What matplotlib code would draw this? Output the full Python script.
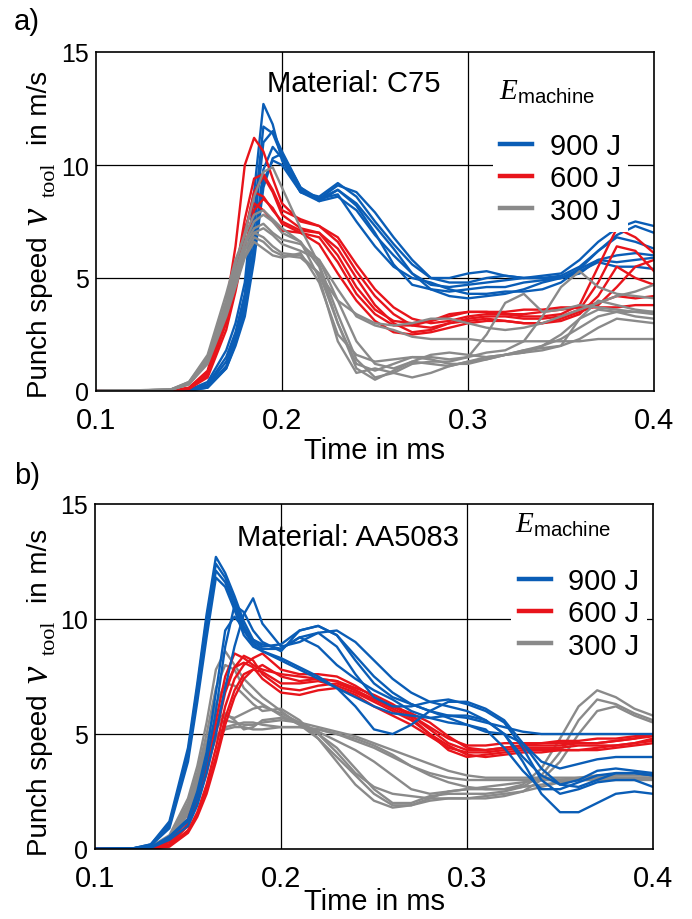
import matplotlib
matplotlib.use("Agg")
import matplotlib.pyplot as plt
from matplotlib.lines import Line2D

plt.rcParams['font.family'] = ['Liberation Sans', 'DejaVu Sans']
plt.rcParams['mathtext.fontset'] = 'custom'
plt.rcParams['mathtext.rm'] = 'Liberation Serif'
plt.rcParams['mathtext.it'] = 'Liberation Serif:italic'
plt.rcParams['mathtext.sf'] = 'Liberation Sans'

# ---------------- data (time in ms, punch speed in m/s) ----------------
energies = ['900 J', '600 J', '300 J']
colors = {'900 J': '#0A5DB6', '600 J': '#E8141B', '300 J': '#8A8A8A'}

x_ticks = [0.1, 0.2, 0.3, 0.4]
x_tick_labels = ['0.1', '0.2', '0.3', '0.4']
y_ticks = [0, 5, 10, 15]
y_tick_labels = ['0', '5', '10', '15']

# Panel a) C75
time_a = [0.10, 0.14, 0.15, 0.16, 0.17, 0.175, 0.18, 0.185, 0.19, 0.195, 0.20,
          0.21, 0.22, 0.23, 0.24, 0.25, 0.26, 0.27, 0.28, 0.29, 0.30,
          0.31, 0.32, 0.33, 0.34, 0.35, 0.36, 0.37, 0.38, 0.39, 0.40]

a_900 = [
    [0, 0, 0.05, 0.4, 1.8, 3.0, 4.8, 8.8, 12.7, 11.8, 10.2, 8.8, 8.6, 9.2, 8.6, 7.5, 6.5, 5.6, 5.0, 5.0, 5.2, 5.3, 5.1, 5.0, 5.1, 5.2, 5.8, 6.6, 7.2, 7.5, 7.3],
    [0, 0, 0.04, 0.3, 1.5, 2.6, 4.3, 7.8, 11.7, 11.4, 10.4, 8.9, 8.5, 9.1, 8.8, 7.9, 6.8, 5.8, 5.0, 4.8, 4.8, 5.0, 5.1, 5.0, 5.0, 5.1, 5.5, 6.2, 6.8, 6.6, 6.3],
    [0, 0, 0.03, 0.25, 1.3, 2.4, 4.0, 7.2, 11.0, 11.5, 10.6, 9.0, 8.4, 8.6, 8.0, 6.9, 6.0, 5.2, 4.7, 4.6, 4.7, 4.8, 4.9, 5.0, 5.0, 5.0, 5.2, 5.8, 6.0, 6.1, 6.0],
    [0, 0, 0.02, 0.2, 1.1, 2.2, 3.7, 6.5, 9.8, 10.8, 10.3, 8.8, 8.4, 8.9, 8.2, 7.0, 5.6, 4.7, 4.5, 4.4, 4.5, 4.6, 4.6, 4.8, 4.9, 5.0, 5.3, 5.7, 5.5, 5.5, 5.4],
    [0, 0, 0.02, 0.15, 1.0, 2.0, 3.3, 5.8, 9.0, 10.3, 10.5, 9.0, 8.5, 8.7, 7.5, 6.4, 5.5, 5.0, 4.8, 4.5, 4.3, 4.3, 4.4, 4.4, 4.5, 4.8, 5.4, 5.8, 5.7, 5.8, 5.9],
    [0, 0, 0.02, 0.15, 1.0, 2.1, 3.5, 6.2, 9.3, 10.2, 10.0, 8.8, 8.5, 8.9, 8.3, 7.3, 6.3, 5.2, 4.5, 4.2, 4.1, 4.2, 4.3, 4.5, 4.8, 5.0, 5.4, 6.2, 6.9, 7.3, 7.0],
]
a_600 = [
    [0, 0.01, 0.15, 0.9, 3.8, 6.4, 10.0, 11.2, 10.6, 9.4, 8.3, 7.5, 7.3, 6.8, 5.6, 4.5, 3.7, 3.2, 3.0, 3.1, 3.3, 3.4, 3.4, 3.3, 3.3, 3.4, 3.8, 5.5, 7.2, 6.8, 6.1],
    [0, 0.01, 0.12, 0.8, 3.4, 5.2, 7.6, 9.4, 9.6, 8.9, 8.0, 7.6, 7.3, 6.6, 5.3, 4.2, 3.4, 2.9, 2.8, 3.0, 3.2, 3.3, 3.3, 3.2, 3.2, 3.3, 3.6, 4.8, 6.4, 6.2, 5.3],
    [0, 0.01, 0.1, 0.7, 3.0, 4.7, 6.9, 8.8, 9.5, 8.8, 7.8, 7.2, 7.0, 6.3, 5.0, 3.8, 3.0, 2.6, 2.7, 3.0, 3.1, 3.2, 3.1, 3.0, 3.0, 3.1, 3.4, 4.2, 5.5, 5.0, 4.7],
    [0, 0.01, 0.1, 0.7, 3.1, 4.9, 7.0, 8.8, 8.6, 8.0, 7.5, 7.1, 7.0, 6.0, 4.6, 3.6, 3.1, 3.0, 3.1, 3.3, 3.5, 3.5, 3.4, 3.4, 3.5, 3.6, 3.7, 3.9, 4.2, 4.1, 4.2],
    [0, 0.01, 0.1, 0.6, 2.7, 4.4, 6.4, 8.0, 8.5, 8.1, 7.4, 7.0, 6.8, 5.7, 4.3, 3.4, 2.9, 2.9, 3.1, 3.4, 3.5, 3.5, 3.5, 3.6, 3.6, 3.7, 3.7, 3.7, 3.7, 3.8, 3.8],
    [0, 0.01, 0.12, 0.8, 3.3, 5.2, 7.2, 8.3, 8.0, 7.5, 7.1, 7.0, 6.5, 5.2, 4.0, 3.1, 2.6, 2.5, 2.6, 2.8, 3.0, 3.1, 3.1, 3.0, 3.0, 3.2, 3.5, 3.8, 4.6, 5.5, 5.8],
]
a_300 = [
    [0, 0.05, 0.35, 1.4, 4.0, 5.6, 7.0, 8.6, 9.7, 9.9, 9.0, 7.2, 5.6, 3.4, 1.4, 0.6, 0.8, 1.2, 1.3, 1.3, 1.5, 2.5, 3.9, 4.3, 3.5, 3.6, 3.8, 3.7, 3.6, 3.5, 3.5],
    [0, 0.06, 0.4, 1.6, 4.3, 5.8, 6.9, 7.8, 8.0, 7.6, 7.2, 6.6, 5.5, 3.0, 1.0, 0.5, 0.9, 1.3, 1.2, 1.1, 1.3, 1.5, 1.6, 1.7, 1.8, 2.0, 3.2, 4.0, 3.8, 3.6, 3.5],
    [0, 0.05, 0.35, 1.4, 3.8, 5.2, 6.5, 7.2, 7.4, 7.0, 6.7, 6.5, 5.8, 4.0, 2.2, 1.2, 1.0, 1.3, 1.6, 1.7, 1.6, 1.5, 1.6, 1.7, 2.0, 2.5, 3.2, 3.6, 3.5, 3.3, 3.2],
    [0, 0.05, 0.3, 1.3, 3.5, 4.9, 6.2, 7.0, 6.8, 6.4, 6.1, 6.0, 5.2, 3.0, 1.2, 0.9, 1.2, 1.5, 1.4, 1.2, 1.2, 1.4, 1.6, 1.8, 2.0, 2.3, 2.8, 3.3, 3.5, 3.5, 3.4],
    [0, 0.05, 0.3, 1.2, 3.3, 4.6, 5.9, 6.6, 6.3, 6.0, 5.9, 6.1, 4.8, 2.5, 1.6, 1.3, 1.4, 1.5, 1.5, 1.4, 1.5, 1.7, 1.8, 2.2, 3.3, 4.6, 5.3, 4.6, 4.3, 4.2, 4.1],
    [0, 0.05, 0.35, 1.4, 3.7, 5.0, 6.3, 7.0, 7.2, 6.9, 6.5, 6.2, 5.8, 4.5, 3.3, 2.9, 2.7, 2.4, 2.3, 2.3, 2.3, 2.2, 2.2, 2.2, 2.2, 2.2, 2.2, 2.3, 2.3, 2.3, 2.3],
    [0, 0.05, 0.3, 1.3, 3.4, 4.7, 6.0, 6.8, 6.6, 6.2, 6.0, 5.9, 5.2, 4.0, 3.4, 3.0, 2.9, 3.0, 3.2, 3.2, 3.0, 2.8, 2.7, 2.8, 3.0, 3.3, 3.6, 3.9, 4.2, 4.4, 4.7],
    [0, 0.06, 0.4, 1.5, 3.9, 5.3, 6.6, 7.5, 7.8, 7.5, 7.0, 6.6, 5.0, 2.2, 0.8, 1.0, 0.8, 0.6, 0.8, 1.1, 1.3, 1.4, 1.6, 1.8, 1.9, 2.0, 2.3, 2.8, 3.2, 3.1, 3.0],
]

# Panel b) AA5083
time_b = [0.10, 0.12, 0.13, 0.14, 0.15, 0.155, 0.16, 0.165, 0.17, 0.175, 0.18, 0.185, 0.19,
          0.20, 0.21, 0.22, 0.23, 0.24, 0.25, 0.26, 0.27, 0.28, 0.29, 0.30,
          0.31, 0.32, 0.33, 0.34, 0.35, 0.36, 0.37, 0.38, 0.39, 0.40]

b_900 = [
    [0, 0.02, 0.2, 1.2, 4.4, 7.2, 10.2, 12.7, 12.0, 11.0, 9.9, 9.1, 8.8, 8.9, 9.5, 9.7, 9.3, 8.4, 7.5, 6.8, 6.3, 6.0, 5.8, 5.7, 5.5, 5.3, 5.1, 5.0, 5.0, 5.0, 5.0, 5.0, 5.0, 5.0],
    [0, 0.02, 0.2, 1.1, 4.2, 7.0, 10.0, 12.4, 11.8, 10.8, 9.7, 9.0, 8.7, 8.7, 9.2, 9.4, 8.8, 7.6, 6.6, 6.2, 6.2, 6.4, 6.5, 6.3, 6.0, 5.5, 4.4, 3.0, 2.4, 2.6, 2.9, 3.0, 3.0, 2.7],
    [0, 0.02, 0.15, 1.0, 4.0, 6.7, 9.6, 12.1, 11.6, 10.6, 9.5, 8.9, 8.6, 8.3, 7.9, 7.5, 7.0, 6.2, 5.2, 5.0, 5.4, 6.0, 6.4, 6.4, 6.1, 5.6, 4.6, 3.5, 2.8, 2.7, 3.0, 3.3, 3.3, 3.2],
    [0, 0.02, 0.15, 0.9, 3.8, 6.4, 9.2, 11.8, 11.4, 10.4, 9.3, 8.8, 8.6, 8.2, 7.8, 7.4, 7.0, 6.6, 6.2, 5.9, 5.8, 5.7, 5.8, 5.8, 5.6, 5.0, 4.0, 3.2, 2.8, 3.0, 3.4, 3.5, 3.4, 3.3],
    [0, 0.01, 0.05, 0.4, 1.0, 1.9, 3.3, 5.0, 7.0, 8.8, 10.2, 10.9, 9.8, 8.8, 9.0, 9.4, 9.5, 9.0, 8.2, 7.4, 6.8, 6.4, 6.2, 6.0, 5.6, 5.0, 3.8, 2.4, 1.6, 1.6, 2.0, 2.4, 2.5, 2.4],
    [0, 0.01, 0.06, 0.5, 1.2, 2.2, 3.8, 6.0, 8.8, 10.6, 10.3, 9.5, 9.0, 8.6, 9.5, 9.7, 9.3, 8.2, 7.2, 6.6, 6.3, 6.0, 5.7, 5.4, 5.1, 5.0, 4.6, 3.8, 3.5, 3.7, 3.9, 4.0, 4.0, 4.0],
    [0, 0.01, 0.07, 0.55, 1.3, 2.5, 4.2, 6.8, 9.5, 10.1, 9.6, 9.1, 8.9, 8.7, 9.2, 8.8, 8.0, 7.4, 6.9, 6.5, 6.0, 5.7, 5.5, 5.4, 5.2, 4.4, 3.4, 2.6, 2.6, 2.9, 3.2, 3.3, 3.3, 3.2],
]
b_600 = [
    [0, 0, 0.05, 0.3, 1.3, 2.4, 3.8, 5.6, 7.5, 8.5, 8.3, 8.0, 7.8, 7.6, 7.5, 7.4, 7.3, 7.0, 6.7, 6.3, 5.8, 5.2, 4.6, 4.3, 4.3, 4.4, 4.5, 4.5, 4.5, 4.6, 4.6, 4.7, 4.8, 4.9],
    [0, 0, 0.03, 0.2, 1.0, 2.0, 3.3, 5.0, 6.8, 7.9, 8.4, 8.2, 7.6, 7.0, 6.9, 7.1, 7.2, 6.9, 6.5, 6.1, 5.7, 5.0, 4.3, 4.0, 4.1, 4.2, 4.3, 4.3, 4.3, 4.3, 4.3, 4.4, 4.5, 4.6],
    [0, 0, 0.02, 0.15, 0.8, 1.6, 2.8, 4.4, 6.2, 7.4, 8.0, 8.3, 8.5, 7.8, 7.6, 7.6, 7.5, 7.1, 6.6, 6.2, 5.9, 5.5, 4.9, 4.4, 4.3, 4.4, 4.5, 4.6, 4.6, 4.6, 4.6, 4.7, 4.8, 5.0],
    [0, 0, 0.02, 0.15, 0.8, 1.5, 2.6, 4.0, 5.7, 6.9, 7.6, 7.8, 7.7, 7.2, 7.2, 7.3, 7.1, 6.8, 6.4, 6.0, 5.6, 5.0, 4.5, 4.1, 4.0, 4.1, 4.2, 4.2, 4.3, 4.3, 4.4, 4.5, 4.6, 4.7],
    [0, 0, 0.03, 0.2, 1.1, 2.1, 3.5, 5.2, 7.0, 7.9, 8.1, 7.9, 7.4, 6.8, 6.7, 6.9, 7.0, 6.7, 6.2, 5.8, 5.4, 4.9, 4.4, 4.2, 4.2, 4.3, 4.4, 4.4, 4.4, 4.5, 4.5, 4.5, 4.6, 4.8],
    [0, 0, 0.02, 0.1, 0.7, 1.4, 2.4, 3.8, 5.4, 6.6, 7.4, 7.8, 8.0, 7.5, 7.3, 7.4, 7.3, 6.9, 6.5, 6.2, 5.8, 5.3, 4.8, 4.5, 4.5, 4.6, 4.6, 4.6, 4.7, 4.7, 4.8, 4.8, 4.9, 5.0],
]
b_300 = [
    [0, 0.02, 0.1, 0.6, 2.2, 3.6, 5.5, 7.8, 8.6, 8.0, 7.4, 7.0, 6.6, 6.0, 5.4, 4.8, 4.0, 3.2, 2.4, 1.9, 1.9, 2.2, 2.5, 2.6, 2.6, 2.6, 2.8, 3.5, 4.8, 6.2, 6.9, 6.6, 6.1, 5.8],
    [0, 0.02, 0.1, 0.5, 2.0, 3.3, 5.0, 7.0, 8.0, 7.8, 7.0, 6.6, 6.3, 5.8, 5.4, 5.0, 4.4, 3.5, 2.6, 2.0, 2.0, 2.3, 2.4, 2.4, 2.4, 2.5, 2.7, 3.2, 4.2, 5.6, 6.5, 6.3, 5.9, 5.6],
    [0, 0.02, 0.1, 0.5, 1.8, 3.0, 4.6, 6.3, 7.2, 7.1, 6.7, 6.3, 6.0, 6.1, 5.6, 4.8, 3.8, 2.8, 2.1, 1.8, 1.9, 2.1, 2.2, 2.2, 2.2, 2.3, 2.5, 3.0, 3.8, 5.0, 6.0, 6.2, 5.8, 5.5],
    [0, 0.02, 0.1, 0.4, 1.6, 2.7, 4.2, 5.4, 5.8, 5.7, 5.9, 6.1, 6.2, 5.9, 5.5, 5.1, 4.7, 4.3, 3.8, 3.2, 2.6, 2.4, 2.5, 2.6, 2.7, 2.8, 2.9, 3.0, 3.0, 3.1, 3.1, 3.1, 3.1, 3.1],
    [0, 0.02, 0.1, 0.4, 1.7, 2.8, 4.2, 5.3, 5.6, 5.5, 5.4, 5.4, 5.5, 5.6, 5.5, 5.3, 5.1, 4.9, 4.6, 4.3, 4.0, 3.7, 3.4, 3.2, 3.1, 3.1, 3.1, 3.1, 3.1, 3.1, 3.2, 3.2, 3.2, 3.2],
    [0, 0.02, 0.1, 0.4, 1.6, 2.6, 3.9, 4.9, 5.3, 5.4, 5.5, 5.5, 5.4, 5.3, 5.3, 5.2, 5.0, 4.8, 4.5, 4.1, 3.6, 3.3, 3.1, 3.0, 3.0, 3.0, 3.0, 3.0, 3.0, 3.0, 3.0, 3.0, 3.0, 3.0],
    [0, 0.02, 0.1, 0.5, 1.9, 3.1, 4.6, 5.6, 5.9, 5.6, 5.2, 5.3, 5.6, 5.7, 5.5, 5.0, 4.2, 3.3, 2.7, 2.4, 2.3, 2.2, 2.2, 2.2, 2.3, 2.4, 2.5, 2.7, 2.9, 3.0, 3.1, 3.2, 3.3, 3.3],
    [0, 0.02, 0.1, 0.4, 1.5, 2.5, 3.7, 4.8, 5.2, 5.3, 5.3, 5.2, 5.2, 5.3, 5.3, 5.2, 5.0, 4.7, 4.4, 4.0, 3.6, 3.2, 2.9, 2.7, 2.6, 2.6, 2.7, 2.8, 2.9, 3.0, 3.0, 3.1, 3.1, 3.1],
]

material_a = 'Material: C75'
material_b = 'Material: AA5083'

# ---------------- figure ----------------
W, H = 692, 920
fig = plt.figure(figsize=(W / 100, H / 100), dpi=100)


def px_axes(x0, x1, ytop, ybot):
    return fig.add_axes([x0 / W, 1 - ybot / H, (x1 - x0) / W, (ybot - ytop) / H])


def ftext(x, y, s, **kw):
    return fig.text(x / W, 1 - y / H, s, **kw)


ax_a = px_axes(96, 654, 53, 392)
ax_b = px_axes(95, 653, 505, 850)

FS = 21
LW = 1.7


def style(ax, ybot, material, mat_xy, title_xy, leg_xy, groups, xpad, lpad):
    ax.set_xlim(0.1, 0.4)
    ax.set_ylim(0, 15)
    for v in (5, 10):
        ax.axhline(v, color='black', lw=0.9, zorder=1)
    for t in (0.2, 0.3):
        ax.axvline(t, color='black', lw=0.9, zorder=1)
    for t, series, key in groups:
        for s in series:
            ax.plot(t, s, color=colors[key], lw=LW, solid_joinstyle='round',
                    solid_capstyle='round', zorder=2)
    ax.set_xticks(x_ticks)
    ax.set_xticklabels(x_tick_labels)
    ax.set_yticks(y_ticks)
    ax.set_yticklabels(y_tick_labels)
    ax.tick_params(axis='x', length=0, labelsize=FS, pad=xpad)
    ax.tick_params(axis='y', length=0, labelsize=18, pad=5)
    for sp in ax.spines.values():
        sp.set_linewidth(1.2)
    ax.set_xlabel('Time in ms', fontsize=FS, labelpad=lpad)

    # y-axis label built from pieces (sans text, large italic serif v, serif subscript)
    rot = dict(rotation=90, rotation_mode='anchor', ha='left', va='baseline')
    ftext(47, ybot + 6, 'Punch speed', fontsize=20, **rot)
    ftext(47, ybot - 167, 'v', fontsize=28, family='Liberation Serif',
          style='italic', **rot)
    ftext(55, ybot - 195, 'tool', fontsize=16, family='Liberation Serif', **rot)
    ftext(47, ybot - 247, 'in m/s', fontsize=20, **rot)

    ax.text(mat_xy[0], mat_xy[1], material, transform=ax.transAxes,
            fontsize=FS, ha='left', va='center', zorder=4)
    ax.text(title_xy[0], title_xy[1], r'$E_{\mathsf{machine}}$', transform=ax.transAxes,
            fontsize=FS, ha='left', va='baseline', zorder=6)
    handles = [Line2D([], [], color=colors[e], lw=3.2) for e in energies]
    leg = ax.legend(handles, energies, fontsize=FS, loc='upper left',
                    bbox_to_anchor=leg_xy, borderaxespad=0, frameon=True,
                    framealpha=1, facecolor='white', edgecolor='none',
                    borderpad=0.25, handlelength=1.1, handletextpad=0.6,
                    labelspacing=0.15, fancybox=False)
    leg.set_zorder(5)


style(ax_a, 392, material_a, (0.306, 0.909), (0.722, 0.861), (0.711, 0.786),
      [(time_a, a_900, '900 J'), (time_a, a_600, '600 J'), (time_a, a_300, '300 J')],
      11, 1)
style(ax_b, 850, material_b, (0.254, 0.904), (0.753, 0.919), (0.746, 0.839),
      [(time_b, b_300, '300 J'), (time_b, b_600, '600 J'), (time_b, b_900, '900 J')],
      11, -4)

ftext(14, 22, 'a)', fontsize=FS, va='center', ha='left')
ftext(14, 476, 'b)', fontsize=FS, va='center', ha='left')

fig.savefig('out.png', dpi=100)
